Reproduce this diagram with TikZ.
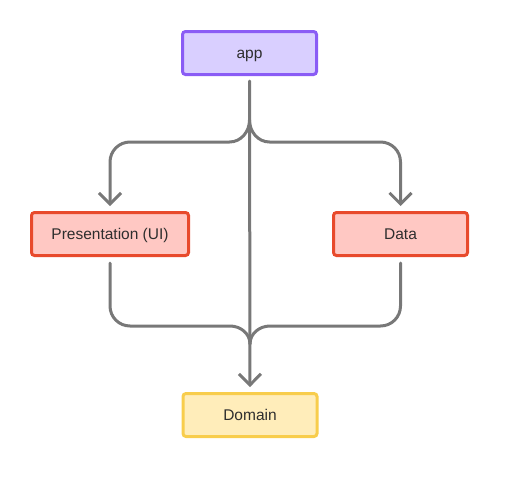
\documentclass[tikz,border=0pt]{standalone}
\usepackage{fontspec}
\setmainfont{Liberation Sans}
\usetikzlibrary{arrows.meta}
\definecolor{applila}{HTML}{D9CFFF}
\definecolor{appedge}{HTML}{8A5CF5}
\definecolor{redfill}{HTML}{FFC8C3}
\definecolor{rededge}{HTML}{E84A2C}
\definecolor{yelfill}{HTML}{FFEDBA}
\definecolor{yeledge}{HTML}{F8CD4C}
\definecolor{linegray}{HTML}{787878}
\definecolor{txt}{HTML}{2E2E2E}
\begin{document}
\begin{tikzpicture}[x=1pt,y=-1pt,
  box/.style={draw,line width=3pt,rounded corners=3pt,minimum width=134pt,minimum height=43pt,
    text=txt,text height=14pt,text depth=3pt,font=\fontsize{15.5}{17}\selectfont},
  conn/.style={draw=linegray,line width=3pt,line cap=round,line join=round},
  tip/.style={-{Straight Barb[length=11pt,width=22pt]}}]
\useasboundingbox (0,0) rectangle (527,490);
\node[box,draw=appedge,fill=applila] (app) at (249.5,53) {app};
\node[box,draw=rededge,fill=redfill,minimum width=157pt] (pres) at (110,234) {Presentation (UI)};
\node[box,draw=rededge,fill=redfill] (data) at (400.5,234) {Data};
\node[box,draw=yeledge,fill=yelfill] (domain) at (250,415) {Domain};
% split and merge points on the middle line
\coordinate (split) at ([yshift=-44pt]app.south);
\coordinate (merge) at ([yshift=48pt]domain.north);
\coordinate (lhook) at ([xshift=-20pt,yshift=-22pt]split);
\coordinate (rhook) at ([xshift=20pt,yshift=-22pt]split);
\coordinate (lfoot) at ([xshift=-20pt,yshift=18pt]merge);
\coordinate (rfoot) at ([xshift=20pt,yshift=18pt]merge);
\coordinate (ltop) at (pres.north |- lhook);
\coordinate (rtop) at (data.north |- rhook);
\coordinate (lbot) at (pres.south |- lfoot);
\coordinate (rbot) at (data.south |- rfoot);
% app to the outer layers
\draw[conn,tip] ([yshift=-5pt]app.south) -- ([yshift=5pt]domain.north);
\draw[conn,tip] (split) to[out=-90,in=0] (lhook) -- ([xshift=20pt]ltop)
  to[out=180,in=90] ([yshift=-20pt]ltop) -- ([yshift=5pt]pres.north);
\draw[conn,tip] (split) to[out=-90,in=180] (rhook) -- ([xshift=-20pt]rtop)
  to[out=0,in=90] ([yshift=-20pt]rtop) -- ([yshift=5pt]data.north);
% outer layers into domain
\draw[conn] ([yshift=-6pt]pres.south) -- ([yshift=20pt]lbot)
  to[out=-90,in=180] ([xshift=20pt]lbot) -- (lfoot) to[out=0,in=90] (merge);
\draw[conn] ([yshift=-6pt]data.south) -- ([yshift=20pt]rbot)
  to[out=-90,in=0] ([xshift=-20pt]rbot) -- (rfoot) to[out=180,in=90] (merge);
\end{tikzpicture}
\end{document}
